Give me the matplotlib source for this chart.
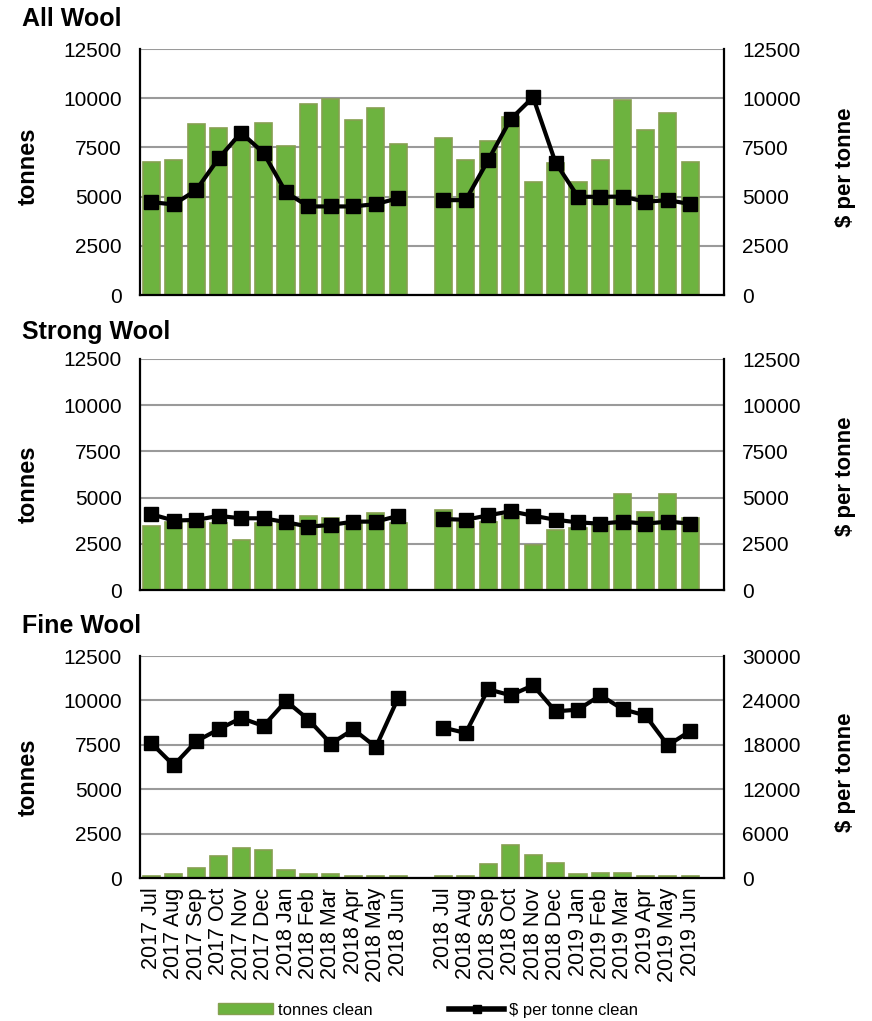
import numpy as np
import matplotlib
matplotlib.use('Agg')
import matplotlib.pyplot as plt
from matplotlib.lines import Line2D
from matplotlib.patches import Patch

plt.rcParams['font.family'] = ['Liberation Sans', 'DejaVu Sans']

# month labels, blank slot between the two seasons and one at the end
months = ['2017 Jul', '2017 Aug', '2017 Sep', '2017 Oct', '2017 Nov', '2017 Dec',
          '2018 Jan', '2018 Feb', '2018 Mar', '2018 Apr', '2018 May', '2018 Jun', '',
          '2018 Jul', '2018 Aug', '2018 Sep', '2018 Oct', '2018 Nov', '2018 Dec',
          '2019 Jan', '2019 Feb', '2019 Mar', '2019 Apr', '2019 May', '2019 Jun', '']

all_tonnes = [6750, 6850, 8680, 8470, 7900, 8760, 7560, 9680, 9960, 8880, 9490, 7660,
              7970, 6850, 7850, 9050, 5730, 6730, 5730, 6850, 9900, 8370, 9270, 6750]
all_price = [4720, 4600, 5330, 6940, 8250, 7220, 5210, 4500, 4500, 4500, 4620, 4920,
             4820, 4820, 6850, 8930, 10050, 6730, 4990, 4990, 5000, 4740, 4820, 4620]

strong_tonnes = [3470, 3700, 3700, 3610, 2710, 3650, 3650, 4010, 3880, 3700, 4140, 3610,
                 4350, 3700, 3700, 4000, 2410, 3260, 3350, 3500, 5200, 4220, 5200, 3900]
strong_price = [4100, 3760, 3790, 4010, 3880, 3880, 3670, 3430, 3520, 3700, 3700, 4010,
                3840, 3800, 4040, 4260, 4020, 3800, 3660, 3590, 3700, 3590, 3700, 3590]

fine_tonnes = [100, 210, 560, 1220, 1670, 1560, 430, 210, 210, 110, 110, 110,
               100, 100, 770, 1880, 1310, 860, 210, 300, 300, 100, 100, 100]
fine_price = [18240, 15230, 18470, 20090, 21620, 20540, 23920, 21400, 18150, 20090, 17700, 24370,
              20320, 19600, 25500, 24690, 26040, 22520, 22750, 24690, 22790, 21980, 17930, 19870]

panels = [
    ('All Wool', all_tonnes, all_price, 12500, 2500),
    ('Strong Wool', strong_tonnes, strong_price, 12500, 2500),
    ('Fine Wool', fine_tonnes, fine_price, 30000, 6000),
]

W, H = 872, 1021
# (top, bottom) of each plot area in pixels
boxes = [(49, 295), (359, 590), (656, 878)]
title_y = [19, 332, 626]
left_lab_y = [166, 484, 777]
right_lab_y = [167, 476, 772]
x0, x1 = 140, 724

bar_color = '#6db33f'
bar_edge = '#86a050'
grid_color = '#9a9a9a'

fig = plt.figure(figsize=(W / 100, H / 100), dpi=100)

idx = [i for i, m in enumerate(months) if m]
x = np.arange(len(months))

for p, (title, tonnes, price, rmax, rstep) in enumerate(panels):
    top, bot = boxes[p]
    ax = fig.add_axes([x0 / W, 1 - bot / H, (x1 - x0) / W, (bot - top) / H])
    ax.bar(idx, tonnes, width=0.76, color=bar_color, edgecolor=bar_edge, linewidth=1.2, zorder=2)
    ax.set_xlim(-0.5, len(months) - 0.5)
    ax.set_ylim(0, 12500)
    ax.set_yticks(np.arange(0, 12501, 2500))
    ax.yaxis.grid(True, color=grid_color, linewidth=1.5)
    ax.set_axisbelow(True)
    ax.set_xticks(x)
    if p == 2:
        ax.set_xticklabels(months, rotation=90, fontsize=15.5)
    else:
        ax.set_xticklabels([])
    ax.tick_params(axis='x', length=0, pad=7)
    ax.tick_params(axis='y', length=0, labelsize=15, pad=13)
    for s in ['left', 'bottom']:
        ax.spines[s].set_linewidth(1.6)
    ax.spines['top'].set_visible(False)
    ax.spines['right'].set_visible(False)

    # price line, gap at the blank slot
    full = np.full(len(months), np.nan)
    full[idx] = price
    ax2 = ax.twinx()
    ax2.plot(x, full, color='black', linewidth=3, marker='s', markersize=10, zorder=3)
    ax2.set_ylim(0, rmax)
    ax2.set_yticks(np.arange(0, rmax + 1, rstep))
    ax2.tick_params(axis='y', length=0, labelsize=15, pad=13)
    ax2.spines['right'].set_linewidth(1.6)
    ax2.spines['top'].set_visible(False)
    ax2.spines['left'].set_visible(False)
    ax2.spines['bottom'].set_visible(False)

    fig.text(22 / W, 1 - title_y[p] / H, title, fontsize=18, fontweight='bold',
             ha='left', va='center')
    fig.text(28 / W, 1 - left_lab_y[p] / H, 'tonnes', fontsize=17, fontweight='bold',
             rotation=90, ha='center', va='center')
    fig.text(845 / W, 1 - right_lab_y[p] / H, '$ per tonne', fontsize=16, fontweight='bold',
             rotation=90, ha='center', va='center')

handles = [Patch(facecolor=bar_color, edgecolor=bar_edge),
           Line2D([0], [0], color='black', linewidth=4, marker='s', markersize=6)]
fig.legend(handles, ['tonnes clean', '$ per tonne clean'], loc='center',
           bbox_to_anchor=(428 / W, 1 - 1010 / H), ncol=2, frameon=False,
           fontsize=12, handlelength=3.3, handleheight=0.6, columnspacing=4.6,
           handletextpad=0.3)

fig.savefig('out.png', dpi=100)
